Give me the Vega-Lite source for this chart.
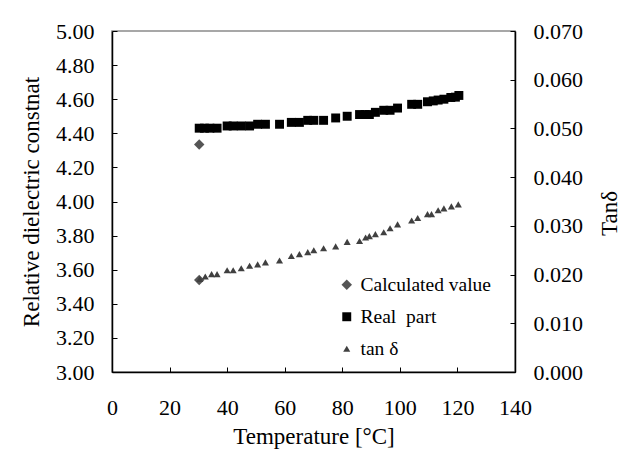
{
  "$schema": "https://vega.github.io/schema/vega-lite/v6.json",
  "width": 403,
  "height": 341,
  "autosize": {"type": "none"},
  "padding": {"left": 112, "top": 31, "right": 125, "bottom": 81},
  "background": "white",
  "config": {
    "view": {"stroke": "#8a8a8a", "strokeWidth": 1.5},
    "axis": {
      "grid": false,
      "labelFont": "Liberation Serif",
      "labelFontSize": 22,
      "labelColor": "#000",
      "titleFont": "Liberation Serif",
      "titleFontSize": 23,
      "titleFontWeight": "normal",
      "titleColor": "#000",
      "domainColor": "#000",
      "domainWidth": 1.5,
      "tickColor": "#000",
      "tickSize": -5,
      "tickWidth": 1
    },
    "legend": {
      "labelFont": "Liberation Serif",
      "labelFontSize": 19.5,
      "labelColor": "#000"
    }
  },
  "datasets": {
    "left": [
      {"series": "Calculated value", "T": 30.3, "value": 4.335},
      {"series": "Real  part", "T": 30.3, "value": 4.43},
      {"series": "Real  part", "T": 32.1, "value": 4.43},
      {"series": "Real  part", "T": 34.0, "value": 4.43},
      {"series": "Real  part", "T": 36.5, "value": 4.43},
      {"series": "Real  part", "T": 40.0, "value": 4.443},
      {"series": "Real  part", "T": 42.1, "value": 4.443},
      {"series": "Real  part", "T": 44.9, "value": 4.443},
      {"series": "Real  part", "T": 47.8, "value": 4.443},
      {"series": "Real  part", "T": 50.6, "value": 4.453},
      {"series": "Real  part", "T": 53.3, "value": 4.453},
      {"series": "Real  part", "T": 58.2, "value": 4.453},
      {"series": "Real  part", "T": 62.3, "value": 4.464},
      {"series": "Real  part", "T": 65.1, "value": 4.464},
      {"series": "Real  part", "T": 68.0, "value": 4.476},
      {"series": "Real  part", "T": 70.1, "value": 4.476},
      {"series": "Real  part", "T": 73.5, "value": 4.476},
      {"series": "Real  part", "T": 77.7, "value": 4.49},
      {"series": "Real  part", "T": 81.7, "value": 4.50},
      {"series": "Real  part", "T": 86.0, "value": 4.51},
      {"series": "Real  part", "T": 87.9, "value": 4.51},
      {"series": "Real  part", "T": 89.4, "value": 4.51},
      {"series": "Real  part", "T": 91.5, "value": 4.523},
      {"series": "Real  part", "T": 94.4, "value": 4.535},
      {"series": "Real  part", "T": 96.6, "value": 4.535},
      {"series": "Real  part", "T": 99.2, "value": 4.548},
      {"series": "Real  part", "T": 104.1, "value": 4.57},
      {"series": "Real  part", "T": 106.2, "value": 4.57},
      {"series": "Real  part", "T": 109.6, "value": 4.585},
      {"series": "Real  part", "T": 111.6, "value": 4.59},
      {"series": "Real  part", "T": 113.3, "value": 4.595},
      {"series": "Real  part", "T": 115.3, "value": 4.60},
      {"series": "Real  part", "T": 117.7, "value": 4.61},
      {"series": "Real  part", "T": 119.3, "value": 4.612},
      {"series": "Real  part", "T": 120.5, "value": 4.622}
    ],
    "right": [
      {"series": "Calculated value", "T": 30.3, "value": 0.0189},
      {"series": "tan δ", "T": 30.5, "value": 0.0191},
      {"series": "tan δ", "T": 32.4, "value": 0.0196},
      {"series": "tan δ", "T": 34.6, "value": 0.0201},
      {"series": "tan δ", "T": 36.5, "value": 0.0201},
      {"series": "tan δ", "T": 40.0, "value": 0.0209},
      {"series": "tan δ", "T": 42.1, "value": 0.0209},
      {"series": "tan δ", "T": 44.9, "value": 0.0213},
      {"series": "tan δ", "T": 47.8, "value": 0.0218},
      {"series": "tan δ", "T": 50.6, "value": 0.0221},
      {"series": "tan δ", "T": 53.3, "value": 0.0225},
      {"series": "tan δ", "T": 58.2, "value": 0.0229},
      {"series": "tan δ", "T": 62.3, "value": 0.0238},
      {"series": "tan δ", "T": 65.1, "value": 0.0242},
      {"series": "tan δ", "T": 68.0, "value": 0.0246},
      {"series": "tan δ", "T": 70.1, "value": 0.0250},
      {"series": "tan δ", "T": 73.5, "value": 0.0254},
      {"series": "tan δ", "T": 77.7, "value": 0.0258},
      {"series": "tan δ", "T": 81.7, "value": 0.0267},
      {"series": "tan δ", "T": 86.0, "value": 0.0269},
      {"series": "tan δ", "T": 88.1, "value": 0.0276},
      {"series": "tan δ", "T": 89.4, "value": 0.0279},
      {"series": "tan δ", "T": 91.5, "value": 0.0283},
      {"series": "tan δ", "T": 94.4, "value": 0.0287},
      {"series": "tan δ", "T": 96.6, "value": 0.0295},
      {"series": "tan δ", "T": 99.2, "value": 0.0303},
      {"series": "tan δ", "T": 104.1, "value": 0.0311},
      {"series": "tan δ", "T": 106.2, "value": 0.0316},
      {"series": "tan δ", "T": 109.6, "value": 0.0324},
      {"series": "tan δ", "T": 111.0, "value": 0.0324},
      {"series": "tan δ", "T": 113.3, "value": 0.0332},
      {"series": "tan δ", "T": 115.3, "value": 0.0336},
      {"series": "tan δ", "T": 117.9, "value": 0.0340},
      {"series": "tan δ", "T": 120.3, "value": 0.0344}
    ]
  },
  "layer": [
    {
      "data": {"name": "left"},
      "mark": {"type": "point", "filled": true, "opacity": 1},
      "encoding": {
        "x": {
          "field": "T", "type": "quantitative",
          "scale": {"domain": [0, 140], "nice": false, "zero": false},
          "axis": {"values": [0, 20, 40, 60, 80, 100, 120, 140], "title": "Temperature [°C]", "labelPadding": 30, "titlePadding": 7, "labelFlush": false}
        },
        "y": {
          "field": "value", "type": "quantitative",
          "scale": {"domain": [3, 5], "nice": false, "zero": false},
          "axis": {"values": [3, 3.2, 3.4, 3.6, 3.8, 4, 4.2, 4.4, 4.6, 4.8, 5], "format": ".2f", "title": "Relative dielectric constnat", "labelPadding": 23, "titlePadding": 12, "labelFlush": false}
        },
        "shape": {
          "field": "series", "type": "nominal",
          "scale": {"domain": ["Calculated value", "Real  part", "tan δ"], "range": ["diamond", "square", "triangle-up"]},
          "legend": {"title": null, "orient": "none", "legendX": 225, "legendY": 244, "padding": 0, "rowPadding": 11, "labelOffset": 4, "symbolSize": 55, "symbolStrokeWidth": 0, "labelExpr": "datum.label == 'Real  part' ? 'Real\u00a0 part' : datum.label"}
        },
        "color": {
          "field": "series", "type": "nominal",
          "scale": {"domain": ["Calculated value", "Real  part", "tan δ"], "range": ["#555555", "#000000", "#404040"]},
          "legend": {"title": null, "orient": "none", "legendX": 225, "legendY": 244, "padding": 0, "rowPadding": 11, "labelOffset": 4, "symbolSize": 55, "symbolStrokeWidth": 0, "labelExpr": "datum.label == 'Real  part' ? 'Real\u00a0 part' : datum.label"}
        },
        "size": {
          "field": "series", "type": "nominal",
          "scale": {"domain": ["Calculated value", "Real  part", "tan δ"], "range": [110, 50, 60]},
          "legend": null
        }
      }
    },
    {
      "data": {"name": "right"},
      "mark": {"type": "point", "filled": true, "opacity": 1},
      "encoding": {
        "x": {"field": "T", "type": "quantitative"},
        "y": {
          "field": "value", "type": "quantitative",
          "scale": {"domain": [0, 0.07], "nice": false, "zero": false},
          "axis": {"orient": "right", "values": [0, 0.01, 0.02, 0.03, 0.04, 0.05, 0.06, 0.07], "format": ".3f", "title": "Tanδ", "titleAngle": -90, "titleBaseline": "top", "titleY": 182, "labelPadding": 23, "titlePadding": 16, "labelFlush": false}
        },
        "shape": {"field": "series", "type": "nominal"},
        "color": {"field": "series", "type": "nominal"},
        "size": {"field": "series", "type": "nominal", "legend": null}
      }
    }
  ],
  "resolve": {"scale": {"y": "independent"}}
}
